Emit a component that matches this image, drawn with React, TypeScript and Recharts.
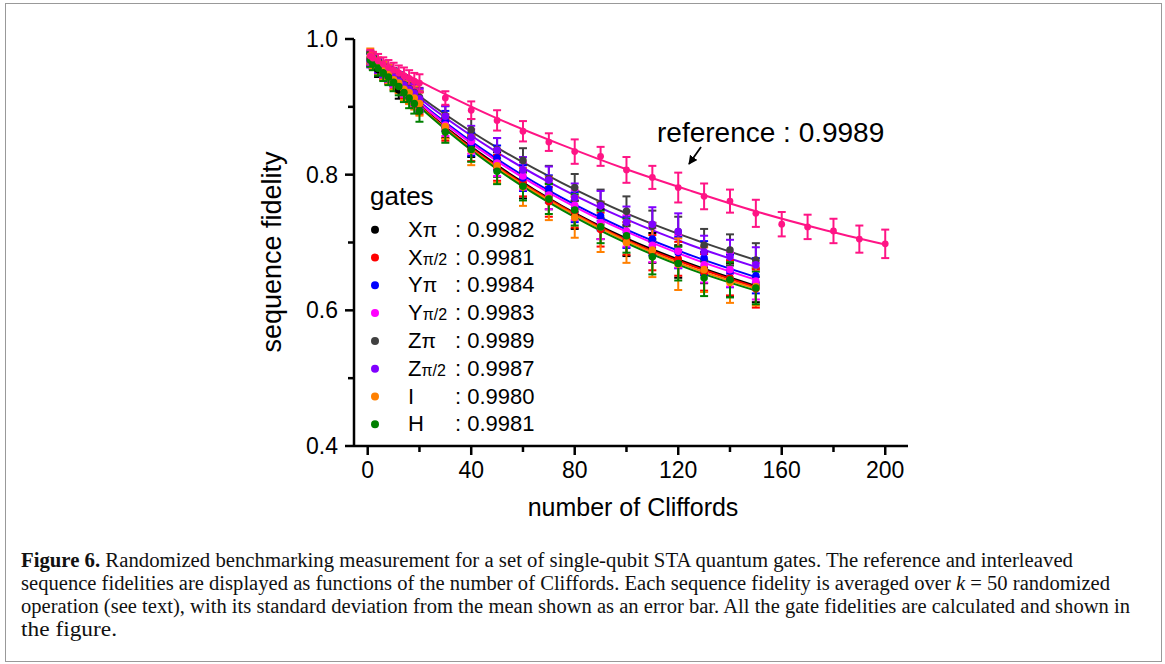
import React from "react";
import { ComposedChart, Scatter, Line, XAxis, YAxis, ErrorBar } from "recharts";

// x positions (number of Cliffords)
const earlyX = [1, 2, 4, 6, 8, 10, 12, 14, 16, 18, 20];
const gateX = [...earlyX, 30, 40, 50, 60, 70, 80, 90, 100, 110, 120, 130, 140, 150];
const refX = [...earlyX, 30, 40, 50, 60, 70, 80, 90, 100, 110, 120, 130, 140, 150, 160, 170, 180, 190, 200];
const fitX = [1, 25, 50, 75, 100, 125, 150];
const refFitX = [1, 25, 50, 75, 100, 125, 150, 175, 200];

// reference
const refY = [0.975, 0.972, 0.968, 0.963, 0.958, 0.954, 0.95, 0.946, 0.942, 0.938, 0.935, 0.913, 0.895, 0.88, 0.864, 0.848, 0.834, 0.827, 0.807, 0.796, 0.781, 0.768, 0.761, 0.743, 0.727, 0.723, 0.717, 0.705, 0.698];
const refE = [0.009, 0.009, 0.01, 0.01, 0.011, 0.011, 0.011, 0.012, 0.012, 0.012, 0.013, 0.01, 0.013, 0.015, 0.015, 0.013, 0.018, 0.014, 0.019, 0.017, 0.022, 0.019, 0.017, 0.02, 0.018, 0.018, 0.018, 0.02, 0.021];
const refFit = [0.975, 0.928, 0.883, 0.844, 0.808, 0.776, 0.746, 0.72, 0.697];

// X pi
const xPiY = [0.97, 0.966, 0.955, 0.953, 0.946, 0.942, 0.925, 0.929, 0.921, 0.916, 0.907, 0.869, 0.842, 0.815, 0.785, 0.768, 0.741, 0.727, 0.703, 0.692, 0.672, 0.663, 0.645, 0.637];
const xPiE = [0.009, 0.01, 0.011, 0.011, 0.012, 0.012, 0.013, 0.013, 0.014, 0.014, 0.015, 0.015, 0.016, 0.018, 0.02, 0.019, 0.021, 0.022, 0.023, 0.022, 0.024, 0.023, 0.024, 0.025];
const xPiFit = [0.972, 0.886, 0.814, 0.754, 0.706, 0.668, 0.636];
// X pi/2
const xHalfY = [0.971, 0.965, 0.959, 0.952, 0.947, 0.939, 0.934, 0.927, 0.92, 0.914, 0.905, 0.866, 0.838, 0.81, 0.789, 0.76, 0.745, 0.719, 0.706, 0.685, 0.676, 0.656, 0.648, 0.632];
const xHalfE = [0.01, 0.01, 0.011, 0.012, 0.012, 0.013, 0.013, 0.014, 0.015, 0.015, 0.016, 0.016, 0.018, 0.019, 0.021, 0.022, 0.023, 0.025, 0.024, 0.026, 0.025, 0.027, 0.026, 0.028];
const xHalfFit = [0.972, 0.885, 0.812, 0.753, 0.704, 0.666, 0.634];
// Y pi
const yPiY = [0.969, 0.967, 0.96, 0.955, 0.948, 0.943, 0.936, 0.93, 0.924, 0.918, 0.909, 0.879, 0.845, 0.825, 0.795, 0.779, 0.752, 0.739, 0.715, 0.705, 0.685, 0.677, 0.658, 0.651];
const yPiE = [0.009, 0.01, 0.01, 0.011, 0.012, 0.012, 0.013, 0.013, 0.014, 0.015, 0.015, 0.015, 0.017, 0.018, 0.019, 0.02, 0.022, 0.021, 0.023, 0.024, 0.023, 0.025, 0.024, 0.026];
const yPiFit = [0.972, 0.892, 0.823, 0.766, 0.719, 0.681, 0.649];
// Y pi/2
const yHalfY = [0.972, 0.966, 0.961, 0.954, 0.949, 0.942, 0.937, 0.929, 0.925, 0.917, 0.91, 0.873, 0.849, 0.817, 0.798, 0.77, 0.755, 0.729, 0.717, 0.696, 0.687, 0.667, 0.66, 0.643];
const yHalfE = [0.01, 0.01, 0.011, 0.011, 0.012, 0.013, 0.013, 0.014, 0.014, 0.015, 0.016, 0.016, 0.018, 0.019, 0.02, 0.021, 0.022, 0.024, 0.023, 0.025, 0.024, 0.026, 0.025, 0.027];
const yHalfFit = [0.972, 0.89, 0.82, 0.763, 0.716, 0.677, 0.645];
// Z pi
const zPiY = [0.973, 0.968, 0.962, 0.956, 0.951, 0.945, 0.939, 0.933, 0.927, 0.921, 0.914, 0.887, 0.866, 0.837, 0.821, 0.794, 0.781, 0.757, 0.746, 0.724, 0.716, 0.696, 0.689, 0.674];
const zPiE = [0.009, 0.009, 0.01, 0.011, 0.011, 0.012, 0.012, 0.013, 0.013, 0.014, 0.014, 0.014, 0.016, 0.017, 0.018, 0.019, 0.02, 0.021, 0.022, 0.023, 0.022, 0.024, 0.023, 0.025];
const zPiFit = [0.972, 0.902, 0.84, 0.788, 0.743, 0.706, 0.674];
// Z pi/2
const zHalfY = [0.968, 0.967, 0.961, 0.955, 0.95, 0.944, 0.938, 0.932, 0.926, 0.92, 0.912, 0.886, 0.855, 0.836, 0.807, 0.792, 0.766, 0.754, 0.73, 0.727, 0.716, 0.686, 0.679, 0.667];
const zHalfE = [0.01, 0.01, 0.011, 0.011, 0.012, 0.012, 0.013, 0.013, 0.014, 0.014, 0.015, 0.015, 0.017, 0.018, 0.019, 0.02, 0.021, 0.022, 0.023, 0.025, 0.027, 0.024, 0.025, 0.026];
const zHalfFit = [0.972, 0.898, 0.833, 0.779, 0.734, 0.696, 0.664];
// I
const iY = [0.975, 0.969, 0.96, 0.953, 0.948, 0.94, 0.935, 0.926, 0.921, 0.913, 0.905, 0.871, 0.836, 0.813, 0.782, 0.765, 0.737, 0.723, 0.7, 0.689, 0.668, 0.66, 0.641, 0.635];
const iE = [0.011, 0.012, 0.013, 0.013, 0.014, 0.015, 0.015, 0.016, 0.017, 0.017, 0.018, 0.018, 0.022, 0.025, 0.028, 0.032, 0.03, 0.037, 0.03, 0.04, 0.038, 0.033, 0.03, 0.028];
const iFit = [0.972, 0.884, 0.81, 0.751, 0.702, 0.663, 0.632];
// H
const hY = [0.969, 0.964, 0.957, 0.95, 0.944, 0.936, 0.93, 0.921, 0.913, 0.905, 0.894, 0.863, 0.837, 0.805, 0.783, 0.764, 0.748, 0.723, 0.71, 0.679, 0.669, 0.648, 0.645, 0.633];
const hE = [0.01, 0.01, 0.011, 0.012, 0.012, 0.013, 0.013, 0.014, 0.015, 0.015, 0.016, 0.016, 0.018, 0.019, 0.021, 0.022, 0.023, 0.024, 0.025, 0.026, 0.025, 0.027, 0.026, 0.024];
const hFit = [0.972, 0.883, 0.808, 0.748, 0.699, 0.66, 0.629];

const gateNames = ["X", "X", "Y", "Y", "Z", "Z", "I", "H"];
const gateSubs = ["π", "π/2", "π", "π/2", "π", "π/2", "", ""];
const gateFidelity = ["0.9982", "0.9981", "0.9984", "0.9983", "0.9989", "0.9987", "0.9980", "0.9981"];
const gateColors = ["#000000", "#ff0000", "#0000ff", "#ff00ff", "#404040", "#8000ff", "#ff8000", "#008000"];
const refColor = "#ff1485";

const xTicks = [0, 20, 40, 60, 80, 100, 120, 140, 160, 180, 200];
const yTicks = [0.4, 0.5, 0.6, 0.7, 0.8, 0.9, 1.0];

const pts = (xs: number[], ys: number[], es: number[]) =>
  xs.map((x, i) => ({ x, y: ys[i], e: es[i] }));
const curve = (xs: number[], ys: number[]) => xs.map((x, i) => ({ x, y: ys[i] }));

const gates = [
  { pts: pts(gateX, xPiY, xPiE), fit: curve(fitX, xPiFit) },
  { pts: pts(gateX, xHalfY, xHalfE), fit: curve(fitX, xHalfFit) },
  { pts: pts(gateX, yPiY, yPiE), fit: curve(fitX, yPiFit) },
  { pts: pts(gateX, yHalfY, yHalfE), fit: curve(fitX, yHalfFit) },
  { pts: pts(gateX, zPiY, zPiE), fit: curve(fitX, zPiFit) },
  { pts: pts(gateX, zHalfY, zHalfE), fit: curve(fitX, zHalfFit) },
  { pts: pts(gateX, iY, iE), fit: curve(fitX, iFit) },
  { pts: pts(gateX, hY, hE), fit: curve(fitX, hFit) },
];
const refPts = pts(refX, refY, refE);
const refCurve = curve(refFitX, refFit);

const SANS = "'Liberation Sans', Arial, sans-serif";
const SERIF = "'Liberation Serif', 'Times New Roman', serif";
const axisStroke = { stroke: "#000", strokeWidth: 2.5 };

const XTick = ({ x, y, payload }: any) => {
  const major = payload.value % 40 === 0;
  return (
    <g>
      <line x1={x} x2={x} y1={y} y2={y + (major ? 9 : 6)} stroke="#000" strokeWidth={2.5} />
      {major && (
        <text x={x} y={y + 32} textAnchor="middle" fontSize={23} fontFamily={SANS} fill="#000">
          {payload.value}
        </text>
      )}
    </g>
  );
};

const YTick = ({ x, y, payload }: any) => {
  const major = Math.round(payload.value * 10) % 2 === 0;
  return (
    <g>
      <line x1={x} x2={x - (major ? 9 : 6)} y1={y} y2={y} stroke="#000" strokeWidth={2.5} />
      {major && (
        <text x={x - 16} y={y + 8} textAnchor="end" fontSize={23} fontFamily={SANS} fill="#000">
          {payload.value.toFixed(1)}
        </text>
      )}
    </g>
  );
};

const dot = (color: string, r: number) => (p: any) =>
  <circle cx={p.cx} cy={p.cy} r={r} fill={color} />;

const App: React.FC = () => {
  const xDomain = [-5.3, 208.8];
  return (
    <div style={{ position: "absolute", left: 0, top: 0, width: 1165, height: 664, background: "#fff", overflow: "hidden" }}>
      <ComposedChart
        width={1165}
        height={664}
        margin={{ top: 39, right: 257, bottom: 188, left: 294 }}
      >
        <XAxis
          dataKey="x"
          type="number"
          domain={xDomain}
          allowDataOverflow
          ticks={xTicks}
          interval={0}
          height={30}
          tickSize={0}
          tickMargin={0}
          tick={XTick}
          axisLine={axisStroke}
        />
        <XAxis xAxisId="top" orientation="top" type="number" domain={xDomain} height={0} tick={false} tickLine={false} axisLine={axisStroke} />
        <YAxis
          dataKey="y"
          type="number"
          domain={[0.4, 1.0]}
          allowDataOverflow
          ticks={yTicks}
          interval={0}
          width={60}
          tickSize={0}
          tickMargin={0}
          tick={YTick}
          axisLine={axisStroke}
        />
        <YAxis yAxisId="right" orientation="right" type="number" domain={[0.4, 1.0]} width={0} tick={false} tickLine={false} axisLine={axisStroke} />

        {gates.map((g, i) => (
          <Line
            key={`fit${i}`}
            data={g.fit}
            dataKey="y"
            type="monotone"
            stroke={gateColors[i]}
            strokeWidth={2}
            dot={false}
            activeDot={false}
            isAnimationActive={false}
          />
        ))}
        <Line data={refCurve} dataKey="y" type="monotone" stroke={refColor} strokeWidth={2} dot={false} activeDot={false} isAnimationActive={false} />

        {gates.map((g, i) => (
          <Scatter key={`pts${i}`} data={g.pts} dataKey="y" shape={dot(gateColors[i], 3.8)} isAnimationActive={false}>
            <ErrorBar dataKey="e" direction="y" width={4} strokeWidth={2} stroke={gateColors[i]} />
          </Scatter>
        ))}
        <Scatter data={refPts} dataKey="y" shape={dot(refColor, 3.4)} isAnimationActive={false}>
          <ErrorBar dataKey="e" direction="y" width={4} strokeWidth={2} stroke={refColor} />
        </Scatter>
      </ComposedChart>

      <svg width={1165} height={664} style={{ position: "absolute", left: 0, top: 0, pointerEvents: "none" }}>
        <defs>
          <marker id="arr" viewBox="0 0 10 10" refX="9" refY="5" markerWidth="5" markerHeight="5" orient="auto">
            <path d="M0,0 L10,5 L0,10 z" fill="#000" />
          </marker>
        </defs>
        <rect x={5.5} y={3.5} width={1156} height={658} fill="none" stroke="#999" strokeWidth={1} />

        <text transform="translate(272,252) rotate(-90)" textAnchor="middle" dominantBaseline="central" fontSize={27} fontFamily={SANS}>
          sequence fidelity
        </text>
        <text x={633} y={516} textAnchor="middle" fontSize={25} fontFamily={SANS}>
          number of Cliffords
        </text>

        <text x={657} y={142} fontSize={28} fontFamily={SANS}>reference : 0.9989</text>
        <line x1={701} y1={147} x2={689} y2={164} stroke="#000" strokeWidth={1.8} markerEnd="url(#arr)" />

        <text x={370} y={205} fontSize={26} fontFamily={SANS}>gates</text>
        {gateNames.map((n, i) => {
          const base = 236.7 + i * 27.8;
          return (
            <g key={n + i}>
              <circle cx={375} cy={base - 7} r={4} fill={gateColors[i]} />
              <text x={408} y={base} fontSize={22} fontFamily={SANS}>
                {n}
                {gateSubs[i] && (
                  <tspan fontSize={gateSubs[i] === "π" ? 21 : 16}>{gateSubs[i]}</tspan>
                )}
              </text>
              <text x={455} y={base} fontSize={22} fontFamily={SANS}>: {gateFidelity[i]}</text>
            </g>
          );
        })}

        <g fontFamily={SERIF} fontSize={20} fill="#111">
          <text x={21} y={567} textLength={1052} lengthAdjust="spacingAndGlyphs">
            <tspan fontWeight="bold">Figure 6.</tspan> Randomized benchmarking measurement for a set of single-qubit STA quantum gates. The reference and interleaved
          </text>
          <text x={21} y={590} textLength={1089} lengthAdjust="spacingAndGlyphs">
            sequence fidelities are displayed as functions of the number of Cliffords. Each sequence fidelity is averaged over <tspan fontStyle="italic">k</tspan> = 50 randomized
          </text>
          <text x={21} y={613} textLength={1109} lengthAdjust="spacingAndGlyphs">
            operation (see text), with its standard deviation from the mean shown as an error bar. All the gate fidelities are calculated and shown in
          </text>
          <text x={21} y={636} textLength={96} lengthAdjust="spacingAndGlyphs">
            the figure.
          </text>
        </g>
      </svg>
    </div>
  );
};

export default App;
